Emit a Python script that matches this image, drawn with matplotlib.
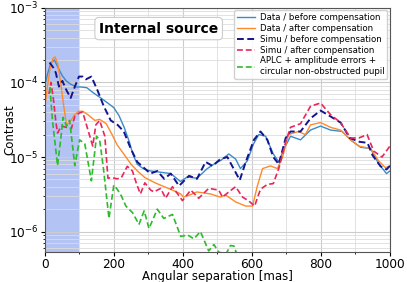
import matplotlib
matplotlib.use("Agg")
import matplotlib.pyplot as plt
from matplotlib.ticker import MultipleLocator, LogLocator, NullFormatter

# Data / before compensation
x_db = [0, 8, 18, 28, 38, 50, 62, 75, 90, 105, 122, 140, 160, 180, 200, 215, 230, 245, 255, 268, 285, 306, 330, 365, 393, 413, 441, 471, 495, 510, 533, 553, 567, 587, 605, 620, 640, 662, 678, 692, 712, 741, 770, 799, 828, 862, 886, 915, 944, 967, 990, 1000]
y_db = [9e-5, 1.3e-4, 1.85e-4, 2.0e-4, 1.6e-4, 1.25e-4, 1.05e-4, 9.5e-5, 8.7e-5, 8.7e-5, 8.5e-5, 7.3e-5, 6.3e-5, 5.4e-5, 4.6e-5, 3.6e-5, 2.5e-5, 1.6e-5, 1.1e-5, 8e-6, 7e-6, 6.5e-6, 6.3e-6, 6e-6, 4.7e-6, 5.4e-6, 5.2e-6, 7e-6, 8.3e-6, 9e-6, 1.1e-5, 9.4e-6, 7e-6, 8.9e-6, 1.5e-5, 2e-5, 1.9e-5, 1.1e-5, 8.6e-6, 1.25e-5, 1.9e-5, 1.7e-5, 2.3e-5, 2.6e-5, 2.3e-5, 2.2e-5, 1.7e-5, 1.35e-5, 1.3e-5, 8.2e-6, 6e-6, 6.5e-6]

# Data / after compensation
x_da = [0, 8, 16, 24, 30, 38, 46, 55, 63, 72, 85, 97, 110, 125, 145, 159, 178, 195, 210, 232, 250, 270, 290, 320, 346, 370, 394, 402, 420, 441, 460, 480, 509, 524, 553, 582, 602, 616, 631, 654, 674, 689, 706, 735, 755, 770, 799, 828, 857, 886, 910, 944, 967, 987, 1000]
y_da = [4.6e-5, 9e-5, 1.6e-4, 2.1e-4, 2.2e-4, 1.75e-4, 1.0e-4, 4.8e-5, 2.7e-5, 2.9e-5, 3.6e-5, 4.1e-5, 4.1e-5, 3.7e-5, 3.1e-5, 3.2e-5, 2.8e-5, 2.0e-5, 1.45e-5, 1.05e-5, 8e-6, 6.4e-6, 5.3e-6, 4.5e-6, 4e-6, 3.6e-6, 3.2e-6, 2.9e-6, 3.1e-6, 3.4e-6, 3.3e-6, 3.2e-6, 2.9e-6, 3.1e-6, 2.5e-6, 2.2e-6, 2.2e-6, 4.1e-6, 7e-6, 7.6e-6, 7e-6, 1.0e-5, 2.0e-5, 2.2e-5, 2.0e-5, 2.7e-5, 2.9e-5, 2.5e-5, 2.3e-5, 1.7e-5, 1.4e-5, 1.3e-5, 8.9e-6, 7.2e-6, 7.6e-6]

# Simu / before compensation
x_sb = [14, 24, 32, 41, 51, 62, 75, 88, 99, 110, 119, 135, 152, 171, 191, 211, 229, 249, 268, 306, 326, 346, 365, 389, 418, 441, 466, 486, 509, 529, 547, 565, 582, 606, 625, 645, 662, 678, 698, 712, 741, 770, 799, 828, 857, 884, 912, 935, 950, 973, 990, 1000]
y_sb = [1.85e-4, 1.6e-4, 1.35e-4, 8.8e-5, 1.05e-4, 8e-5, 6.2e-5, 9e-5, 1.2e-4, 1.2e-4, 1.1e-4, 1.2e-4, 8e-5, 4.8e-5, 3.1e-5, 2.7e-5, 2.2e-5, 1.3e-5, 8.6e-6, 6e-6, 6.5e-6, 5.1e-6, 6e-6, 4.1e-6, 5.6e-6, 5.1e-6, 8.6e-6, 7.6e-6, 9.4e-6, 1.0e-5, 7e-6, 4.9e-6, 8.5e-6, 1.7e-5, 2.2e-5, 1.7e-5, 1.0e-5, 8e-6, 1.8e-5, 2.2e-5, 2.2e-5, 3.3e-5, 4.2e-5, 3.5e-5, 2.9e-5, 1.8e-5, 1.6e-5, 1.55e-5, 1.05e-5, 7.5e-6, 6.8e-6, 7.6e-6]

# Simu / after compensation
x_sa = [12, 18, 25, 32, 37, 48, 63, 77, 87, 100, 110, 124, 139, 148, 159, 174, 183, 193, 210, 222, 239, 254, 265, 277, 290, 307, 316, 336, 350, 370, 399, 423, 446, 475, 504, 515, 533, 553, 573, 590, 608, 625, 645, 662, 678, 698, 712, 741, 770, 799, 828, 857, 886, 910, 934, 953, 977, 1000]
y_sa = [7e-5, 1.0e-4, 6e-5, 3e-5, 2.1e-5, 2.6e-5, 2.5e-5, 2.4e-5, 3.5e-5, 3.9e-5, 4.0e-5, 2.4e-5, 1.4e-5, 2.7e-5, 3.1e-5, 1.9e-5, 5.2e-6, 5.3e-6, 5.1e-6, 5.3e-6, 7.5e-6, 6.5e-6, 4.5e-6, 3.2e-6, 4.5e-6, 3.6e-6, 3.4e-6, 3.8e-6, 2.8e-6, 4e-6, 2.6e-6, 3.6e-6, 2.8e-6, 3.8e-6, 3.6e-6, 2.9e-6, 3.4e-6, 4e-6, 2.9e-6, 2.6e-6, 2.2e-6, 3.7e-6, 4.3e-6, 4.4e-6, 7e-6, 1.6e-5, 2.5e-5, 2.8e-5, 4.8e-5, 5.3e-5, 3.7e-5, 2.9e-5, 1.8e-5, 1.8e-5, 2e-5, 1.2e-5, 1.0e-5, 1.4e-5]

# APLC + amplitude errors + circular non-obstructed pupil
x_ap = [15, 22, 30, 37, 46, 53, 63, 72, 87, 101, 116, 135, 150, 159, 170, 186, 200, 210, 222, 235, 254, 273, 288, 302, 326, 345, 370, 394, 414, 432, 451, 475, 490, 504, 525, 538, 548, 560]
y_ap = [8.7e-5, 3.2e-5, 1.5e-5, 7.7e-6, 1.7e-5, 3.4e-5, 2.6e-5, 3.1e-5, 7.7e-6, 1.7e-5, 1.5e-5, 4.8e-6, 1.9e-5, 1.7e-5, 7e-6, 1.5e-6, 4.2e-6, 3.7e-6, 3.0e-6, 2.2e-6, 1.8e-6, 1.25e-6, 1.9e-6, 1.1e-6, 2.0e-6, 1.5e-6, 1.7e-6, 8.6e-7, 9e-7, 8e-7, 1.0e-6, 5.5e-7, 6.7e-7, 5.3e-7, 5e-7, 6.5e-7, 6.4e-7, 4.5e-7]

labels = ["Data / before compensation", "Data / after compensation",
          "Simu / before compensation", "Simu / after compensation",
          "APLC + amplitude errors +\ncircular non-obstructed pupil"]

fig = plt.figure(figsize=(4.07, 2.82), dpi=100)
ax = fig.add_axes([0.110, 0.108, 0.848, 0.864])

ax.axvspan(0, 100, color="royalblue", alpha=0.4, lw=0, zorder=0)

ax.plot(x_db, y_db, color="#3a8ac8", lw=1.0, label=labels[0])
ax.plot(x_da, y_da, color="#ff8a2a", lw=1.0, label=labels[1])
ax.plot(x_sb, y_sb, color="#14148f", lw=1.4, ls=(0, (3.5, 1.8)), label=labels[2])
ax.plot(x_sa, y_sa, color="#e8265a", lw=1.2, ls=(0, (3.5, 1.8)), label=labels[3])
ax.plot(x_ap, y_ap, color="#2dbb2d", lw=1.2, ls=(0, (3.5, 1.8)), label=labels[4])

ax.set_yscale("log")
ax.set_xlim(0, 1000)
ax.set_ylim(5.4e-7, 1e-3)
ax.xaxis.set_major_locator(MultipleLocator(200))
ax.xaxis.set_minor_locator(MultipleLocator(100))
ax.yaxis.set_major_locator(LogLocator(base=10, numticks=10))
ax.yaxis.set_minor_locator(LogLocator(base=10, subs=range(2, 10), numticks=20))
ax.yaxis.set_minor_formatter(NullFormatter())
ax.grid(which="major", color="#cccccc", lw=0.8)
ax.grid(which="minor", color="#dddddd", lw=0.6)
ax.set_axisbelow(True)
ax.tick_params(labelsize=8.7, pad=1.5, length=3)
ax.tick_params(which="minor", length=1.5)
for s in ax.spines.values():
    s.set_color("#555555")

ax.set_xlabel("Angular separation [mas]", fontsize=8.5, labelpad=-0.5)
ax.set_ylabel("Contrast", fontsize=8.5, labelpad=0)
ax.yaxis.set_label_coords(-0.083, 0.5)

ax.text(0.33, 0.915, "Internal source", transform=ax.transAxes, fontsize=10,
        fontweight="bold", ha="center", va="center",
        bbox=dict(boxstyle="round,pad=0.3", fc="white", ec="#cccccc", lw=0.8))

leg = ax.legend(loc="upper right", fontsize=6.2, framealpha=0.9,
                borderaxespad=0.3, handlelength=2.0, labelspacing=0.2,
                borderpad=0.35, handletextpad=0.6)
leg.get_frame().set_edgecolor("#cccccc")

fig.savefig("out.png", dpi=100)
